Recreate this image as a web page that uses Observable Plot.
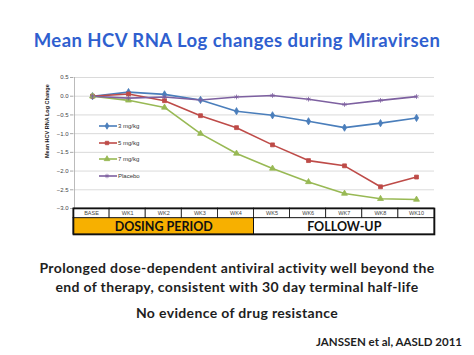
<!DOCTYPE html>
<html>
<head>
<meta charset="utf-8">
<script src="https://cdn.jsdelivr.net/npm/d3@7"></script>
<script src="https://cdn.jsdelivr.net/npm/@observablehq/plot@0.6"></script>
<style>
  html, body { margin: 0; padding: 0; background: #fff; }
  #page { position: relative; width: 474px; height: 355px; overflow: hidden; font-family: Lato, "Open Sans", sans-serif; }
  .abs { position: absolute; white-space: nowrap; line-height: 1; }
  #title { left: 0; width: 474px; text-align: center; top: 31px; font-size: 18.5px; letter-spacing: 0.45px; font-weight: bold; color: #2f5fcf; }
  .body { left: 0; width: 474px; text-align: center; font-size: 14px; letter-spacing: 0.35px; font-weight: bold; color: #1e1e1e; }
  #cite { right: 12px; top: 336px; font-size: 11.5px; font-weight: bold; color: #1e1e1e; }
  #main { position: absolute; left: 0; top: 67px; }
  #table { position: absolute; left: 0; top: 207px; }
  #legend { position: absolute; left: 99px; top: 118px; font-size: 6px; color: #333; font-family: Arial, "Liberation Sans", sans-serif; }
  #legend .row { height: 16.5px; display: flex; align-items: center; }
  #legend svg { margin-right: 1px; }
</style>
</head>
<body>
<div id="page">
  <div id="title" class="abs">Mean HCV RNA Log changes during Miravirsen</div>
  <div id="main"></div>
  <div id="legend"></div>
  <div id="table"></div>
  <div class="abs body" style="top:261px">Prolonged dose-dependent antiviral activity well beyond the</div>
  <div class="abs body" style="top:280px">end of therapy, consistent with 30 day terminal half-life</div>
  <div class="abs body" style="top:306px">No evidence of drug resistance</div>
  <div id="cite" class="abs">JANSSEN et al, AASLD 2011</div>
</div>
<script>
// ---- data ----
const categories = ["BASE", "WK1", "WK2", "WK3", "WK4", "WK5", "WK6", "WK7", "WK8", "WK10"];
const seriesNames = ["3 mg/kg", "5 mg/kg", "7 mg/kg", "Placebo"];
const mg3 = [0, 0.11, 0.05, -0.10, -0.40, -0.51, -0.67, -0.84, -0.72, -0.58];
const mg5 = [0, 0.06, -0.12, -0.52, -0.84, -1.30, -1.72, -1.86, -2.42, -2.16];
const mg7 = [0, -0.11, -0.30, -1.00, -1.53, -1.93, -2.29, -2.60, -2.74, -2.76];
const placebo = [0, -0.05, -0.02, -0.10, -0.02, 0.02, -0.08, -0.22, -0.11, -0.01];
const yTicks = [0.5, 0.0, -0.5, -1.0, -1.5, -2.0, -2.5, -3.0];
const yLabel = "Mean HCV RNA Log Change";
const periodNames = ["DOSING PERIOD", "FOLLOW-UP"];
const periodStarts = ["BASE", "WK5"];

// ---- styles ----
const colors = ["#4a7ebb", "#be4b48", "#98b954", "#7d60a0"];
const symbols = ["diamond", "square", "triangle", "asterisk"];
const symbolSizes = [12, 12, 14, 14];

const allValues = [mg3, mg5, mg7, placebo];
const rows = [];
seriesNames.forEach((s, si) => {
  categories.forEach((c, ci) => rows.push({series: s, cat: c, value: allValues[si][ci]}));
});

const W = 474;
const mL = 73, mR = 40;

const main = Plot.plot({
  width: W,
  height: 141,
  marginLeft: mL,
  marginRight: mR,
  marginTop: 10,
  marginBottom: 0,
  style: {fontFamily: "Arial, 'Liberation Sans', sans-serif", fontSize: "6px", color: "#333", overflow: "visible"},
  x: {type: "point", domain: categories, padding: 0.5, axis: null},
  y: {domain: [-3, 0.5], ticks: yTicks, tickFormat: d3.format(".1f"), label: null},
  color: {domain: seriesNames, range: colors},
  symbol: {domain: seriesNames, range: symbols},
  marks: [
    Plot.gridY(yTicks, {stroke: "#d0d0d0", strokeOpacity: 1, strokeWidth: 0.8}),
    Plot.axisY(yTicks, {tickSize: 3, tickFormat: d3.format(".1f"), tickPadding: 2, fontSize: 6, fill: "#444", label: null, stroke: "#aaa"}),
    Plot.ruleX([categories[0]], {stroke: "#aaa", strokeWidth: 0.8, dx: -18}),
    Plot.text([yLabel], {frameAnchor: "left", rotate: -90, dx: -26, dy: 15, fontSize: 5.5, fontWeight: "bold", fill: "#222"}),
    Plot.line(rows, {x: "cat", y: "value", z: "series", stroke: "series", strokeWidth: 1.6}),
    Plot.dot(rows, {x: "cat", y: "value", fill: "series", stroke: "series", symbol: "series", r: 2.2, strokeWidth: 0.8})
  ]
});
document.getElementById("main").appendChild(main);

// ---- legend ----
const legend = document.getElementById("legend");
seriesNames.forEach((s, i) => {
  const row = document.createElement("div");
  row.className = "row";
  const sym = d3.symbol(
    {diamond: d3.symbolDiamond, square: d3.symbolSquare, triangle: d3.symbolTriangle, asterisk: d3.symbolAsterisk}[symbols[i]],
    symbolSizes[i])();
  row.innerHTML = `<svg width="18" height="8"><line x1="0" x2="18" y1="4" y2="4" stroke="${colors[i]}" stroke-width="1.6"/>` +
    `<path d="${sym}" transform="translate(8,4)" fill="${colors[i]}" stroke="${colors[i]}" stroke-width="0.8"/></svg><span>${s}</span>`;
  legend.appendChild(row);
});

// ---- table below the chart ----
const n = categories.length;
const catCells = categories.map((c, i) => ({label: c, i}));
const periods = periodNames.map((p, k) => {
  const start = categories.indexOf(periodStarts[k]);
  const end = k + 1 < periodStarts.length ? categories.indexOf(periodStarts[k + 1]) : n;
  return {label: p, start, end, fill: k === 0 ? "#f7b000" : "#ffffff"};
});

const table = Plot.plot({
  width: W,
  height: 28,
  marginLeft: mL,
  marginRight: mR,
  marginTop: 1,
  marginBottom: 1,
  style: {fontFamily: "Arial, 'Liberation Sans', sans-serif", overflow: "visible"},
  x: {domain: [0, n], axis: null},
  y: {domain: [2.7, 0], axis: null},
  marks: [
    Plot.rect(periods, {x1: "start", x2: "end", y1: 1, y2: 2.7, fill: "fill", stroke: "#111", strokeWidth: 1}),
    Plot.rect(catCells, {x1: "i", x2: d => d.i + 1, y1: 0, y2: 1, fill: "white", stroke: "#111", strokeWidth: 0.8}),
    Plot.text(catCells, {x: d => d.i + 0.5, y: 0.5, text: "label", fontSize: 5.5, fill: "#444"}),
    Plot.text(periods, {x: d => (d.start + d.end) / 2, y: 1.88, text: "label", fontSize: 12.5, fontWeight: "bold", fill: "#111", fontFamily: "Lato, 'Open Sans', sans-serif"}),
    Plot.frame({stroke: "#111", strokeWidth: 1.6})
  ]
});
document.getElementById("table").appendChild(table);
</script>
</body>
</html>
